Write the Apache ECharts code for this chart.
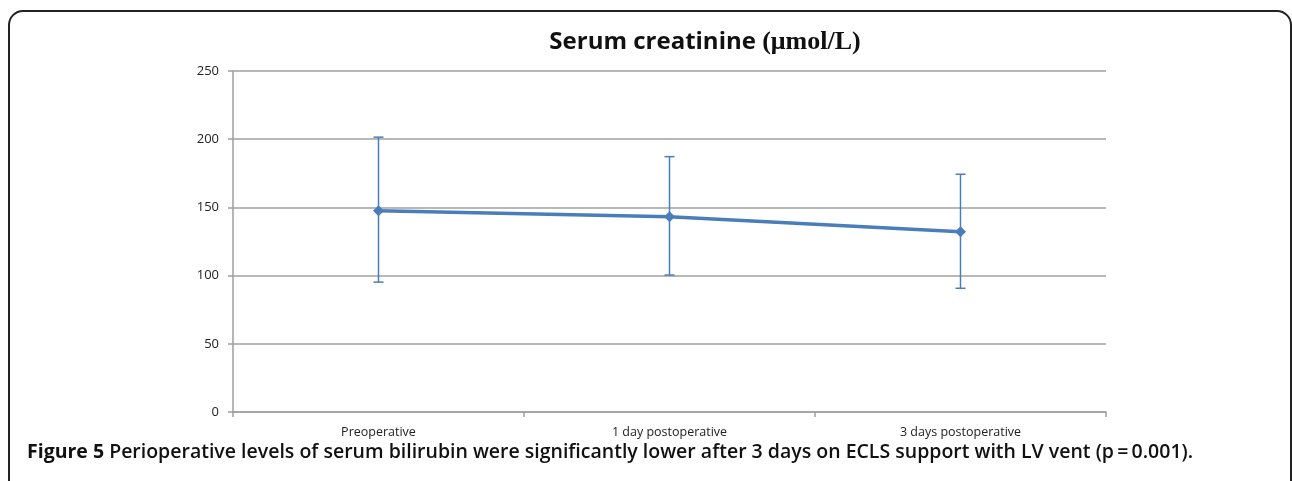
<!DOCTYPE html>
<html>
<head>
<meta charset="utf-8">
<script src="https://cdn.jsdelivr.net/npm/echarts@6/dist/echarts.min.js"></script>
<style>html,body{margin:0;padding:0;background:#fff;}#c{width:1292px;height:481px;}</style>
</head>
<body>
<div id="c"></div>
<script>
const categories = ['Preoperative', '1 day postoperative', '3 days postoperative'];
const means = [147.5, 143.2, 132.2];
const upper = [201.5, 187.2, 174.3];
const lower = [95.2, 100.4, 90.7];
const yTicks = [0, 50, 100, 150, 200, 250];
const captionBold = 'Figure 5';
const captionText = ' Perioperative levels of serum bilirubin were significantly lower after 3 days on ECLS support with LV vent (p\u2009=\u20090.001).';

const blue = '#4a7ebb';
const chart = echarts.init(document.getElementById('c'), null, {renderer: 'canvas'});
const errData = categories.map((c, i) => [i, lower[i], upper[i]]);

chart.setOption({
  animation: false,
  backgroundColor: '#fff',
  grid: {left: 233, right: 186, top: 71, bottom: 69, containLabel: false},
  xAxis: {
    type: 'category', data: categories, boundaryGap: true,
    axisLine: {lineStyle: {color: '#9e9e9e', width: 1.5}},
    axisTick: {show: true, length: 5, lineStyle: {color: '#9e9e9e', width: 1.5}},
    axisLabel: {color: '#222', fontFamily: 'Open Sans', fontSize: 12.5, margin: 14}
  },
  yAxis: {
    type: 'value', min: yTicks[0], max: yTicks[yTicks.length - 1], interval: 50,
    axisLine: {show: true, lineStyle: {color: '#9e9e9e', width: 1.5}},
    axisTick: {show: true, length: 5, lineStyle: {color: '#9e9e9e', width: 1.5}},
    splitLine: {lineStyle: {color: '#a0a0a0', width: 1.5}},
    axisLabel: {color: '#222', fontFamily: 'Open Sans', fontSize: 13, margin: 14}
  },
  series: [
    {
      type: 'custom', data: errData, z: 3,
      renderItem: function (params, api) {
        const x = api.value(0);
        const lo = api.coord([x, api.value(1)]);
        const hi = api.coord([x, api.value(2)]);
        const w = 5;
        const st = {stroke: blue, lineWidth: 1.5};
        return {type: 'group', children: [
          {type: 'line', shape: {x1: lo[0], y1: lo[1], x2: hi[0], y2: hi[1]}, style: st},
          {type: 'line', shape: {x1: hi[0] - w, y1: hi[1], x2: hi[0] + w, y2: hi[1]}, style: st},
          {type: 'line', shape: {x1: lo[0] - w, y1: lo[1], x2: lo[0] + w, y2: lo[1]}, style: st}
        ]};
      }
    },
    {
      type: 'line', data: means, z: 4,
      lineStyle: {color: blue, width: 3.5},
      itemStyle: {color: blue},
      symbol: 'diamond', symbolSize: 11, showSymbol: true
    }
  ],
  graphic: [
    {type: 'rect', shape: {x: 9, y: 11, width: 1282, height: 500, r: 14},
     style: {fill: 'none', stroke: '#222', lineWidth: 2}, z: 0},
    {type: 'text', x: 705, y: 42,
     style: {
       text: '{a|Serum creatinine }{b|(\u03bcmol/L)}',
       rich: {
         a: {fontFamily: 'Open Sans', fontWeight: 'bold', fontSize: 24, fill: '#111'},
         b: {fontFamily: 'Liberation Serif', fontWeight: 'bold', fontSize: 26, fill: '#111'}
       },
       align: 'center', verticalAlign: 'middle'
     }},
    {type: 'text', x: 27, y: 452,
     style: {
       text: '{a|' + captionBold + '}{b|' + captionText + '}',
       rich: {
         a: {fontFamily: 'Open Sans', fontWeight: 'bold', fontSize: 19.5, fill: '#111'},
         b: {fontFamily: 'Open Sans', fontWeight: 600, fontSize: 19.5, fill: '#111'}
       },
       verticalAlign: 'middle'
     }}
  ]
});
</script>
</body>
</html>
